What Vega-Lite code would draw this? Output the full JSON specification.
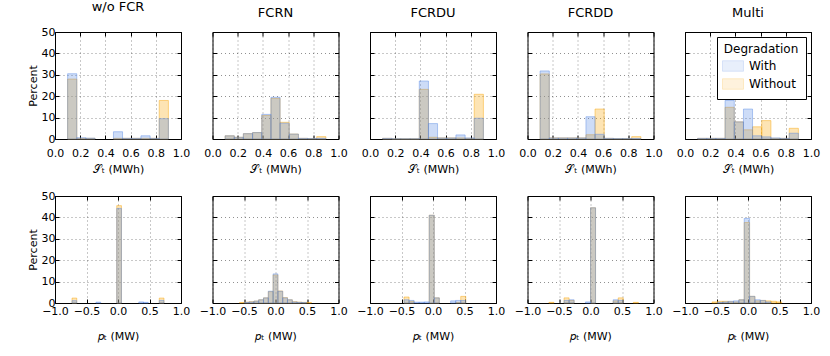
{
 "$schema": "https://vega.github.io/schema/vega-lite/v6.json",
 "background": "white",
 "padding": {"left": 26, "top": 0, "right": 5, "bottom": 5},
 "datasets": {"d": [
  {"p":"w/o FCR","r":"t","d":"With","a":0.100,"b":0.173,"v":30.5},
  {"p":"w/o FCR","r":"t","d":"With","a":0.173,"b":0.245,"v":0.6},
  {"p":"w/o FCR","r":"t","d":"With","a":0.245,"b":0.318,"v":0.4},
  {"p":"w/o FCR","r":"t","d":"With","a":0.464,"b":0.536,"v":3.4},
  {"p":"w/o FCR","r":"t","d":"With","a":0.536,"b":0.609,"v":0.3},
  {"p":"w/o FCR","r":"t","d":"With","a":0.609,"b":0.682,"v":0.3},
  {"p":"w/o FCR","r":"t","d":"With","a":0.682,"b":0.755,"v":1.5},
  {"p":"w/o FCR","r":"t","d":"With","a":0.755,"b":0.827,"v":0.3},
  {"p":"w/o FCR","r":"t","d":"With","a":0.827,"b":0.900,"v":9.5},
  {"p":"w/o FCR","r":"t","d":"Without","a":0.100,"b":0.173,"v":28.0},
  {"p":"w/o FCR","r":"t","d":"Without","a":0.173,"b":0.245,"v":0.3},
  {"p":"w/o FCR","r":"t","d":"Without","a":0.245,"b":0.318,"v":0.3},
  {"p":"w/o FCR","r":"t","d":"Without","a":0.464,"b":0.536,"v":0.3},
  {"p":"w/o FCR","r":"t","d":"Without","a":0.536,"b":0.609,"v":0.3},
  {"p":"w/o FCR","r":"t","d":"Without","a":0.609,"b":0.682,"v":0.3},
  {"p":"w/o FCR","r":"t","d":"Without","a":0.682,"b":0.755,"v":0.3},
  {"p":"w/o FCR","r":"t","d":"Without","a":0.755,"b":0.827,"v":0.3},
  {"p":"w/o FCR","r":"t","d":"Without","a":0.827,"b":0.900,"v":18.0},

  {"p":"FCRN","r":"t","d":"With","a":0.100,"b":0.173,"v":1.5},
  {"p":"FCRN","r":"t","d":"With","a":0.173,"b":0.245,"v":0.8},
  {"p":"FCRN","r":"t","d":"With","a":0.245,"b":0.318,"v":2.5},
  {"p":"FCRN","r":"t","d":"With","a":0.318,"b":0.391,"v":3.0},
  {"p":"FCRN","r":"t","d":"With","a":0.391,"b":0.464,"v":11.5},
  {"p":"FCRN","r":"t","d":"With","a":0.464,"b":0.536,"v":19.5},
  {"p":"FCRN","r":"t","d":"With","a":0.536,"b":0.609,"v":7.4},
  {"p":"FCRN","r":"t","d":"With","a":0.609,"b":0.682,"v":2.3},
  {"p":"FCRN","r":"t","d":"With","a":0.682,"b":0.755,"v":0.3},
  {"p":"FCRN","r":"t","d":"With","a":0.755,"b":0.827,"v":0.2},
  {"p":"FCRN","r":"t","d":"With","a":0.827,"b":0.900,"v":0.3},
  {"p":"FCRN","r":"t","d":"Without","a":0.100,"b":0.173,"v":1.5},
  {"p":"FCRN","r":"t","d":"Without","a":0.173,"b":0.245,"v":0.8},
  {"p":"FCRN","r":"t","d":"Without","a":0.245,"b":0.318,"v":2.5},
  {"p":"FCRN","r":"t","d":"Without","a":0.318,"b":0.391,"v":3.0},
  {"p":"FCRN","r":"t","d":"Without","a":0.391,"b":0.464,"v":11.0},
  {"p":"FCRN","r":"t","d":"Without","a":0.464,"b":0.536,"v":19.0},
  {"p":"FCRN","r":"t","d":"Without","a":0.536,"b":0.609,"v":7.8},
  {"p":"FCRN","r":"t","d":"Without","a":0.609,"b":0.682,"v":2.3},
  {"p":"FCRN","r":"t","d":"Without","a":0.682,"b":0.755,"v":0.3},
  {"p":"FCRN","r":"t","d":"Without","a":0.755,"b":0.827,"v":0.2},
  {"p":"FCRN","r":"t","d":"Without","a":0.827,"b":0.900,"v":1.1},

  {"p":"FCRDU","r":"t","d":"With","a":0.100,"b":0.173,"v":0.3},
  {"p":"FCRDU","r":"t","d":"With","a":0.173,"b":0.245,"v":0.1},
  {"p":"FCRDU","r":"t","d":"With","a":0.245,"b":0.318,"v":0.1},
  {"p":"FCRDU","r":"t","d":"With","a":0.318,"b":0.391,"v":0.1},
  {"p":"FCRDU","r":"t","d":"With","a":0.391,"b":0.464,"v":27.1},
  {"p":"FCRDU","r":"t","d":"With","a":0.464,"b":0.536,"v":7.2},
  {"p":"FCRDU","r":"t","d":"With","a":0.536,"b":0.609,"v":0.5},
  {"p":"FCRDU","r":"t","d":"With","a":0.609,"b":0.682,"v":0.5},
  {"p":"FCRDU","r":"t","d":"With","a":0.682,"b":0.755,"v":1.9},
  {"p":"FCRDU","r":"t","d":"With","a":0.755,"b":0.827,"v":0.5},
  {"p":"FCRDU","r":"t","d":"With","a":0.827,"b":0.900,"v":9.7},
  {"p":"FCRDU","r":"t","d":"Without","a":0.100,"b":0.173,"v":0.3},
  {"p":"FCRDU","r":"t","d":"Without","a":0.173,"b":0.245,"v":0.1},
  {"p":"FCRDU","r":"t","d":"Without","a":0.245,"b":0.318,"v":0.1},
  {"p":"FCRDU","r":"t","d":"Without","a":0.318,"b":0.391,"v":0.1},
  {"p":"FCRDU","r":"t","d":"Without","a":0.391,"b":0.464,"v":23.2},
  {"p":"FCRDU","r":"t","d":"Without","a":0.464,"b":0.536,"v":0.8},
  {"p":"FCRDU","r":"t","d":"Without","a":0.536,"b":0.609,"v":0.5},
  {"p":"FCRDU","r":"t","d":"Without","a":0.609,"b":0.682,"v":0.5},
  {"p":"FCRDU","r":"t","d":"Without","a":0.682,"b":0.755,"v":0.5},
  {"p":"FCRDU","r":"t","d":"Without","a":0.755,"b":0.827,"v":0.3},
  {"p":"FCRDU","r":"t","d":"Without","a":0.827,"b":0.900,"v":20.9},

  {"p":"FCRDD","r":"t","d":"With","a":0.100,"b":0.173,"v":31.8},
  {"p":"FCRDD","r":"t","d":"With","a":0.173,"b":0.245,"v":0.5},
  {"p":"FCRDD","r":"t","d":"With","a":0.245,"b":0.318,"v":0.5},
  {"p":"FCRDD","r":"t","d":"With","a":0.318,"b":0.391,"v":0.5},
  {"p":"FCRDD","r":"t","d":"With","a":0.391,"b":0.464,"v":0.5},
  {"p":"FCRDD","r":"t","d":"With","a":0.464,"b":0.536,"v":10.4},
  {"p":"FCRDD","r":"t","d":"With","a":0.536,"b":0.609,"v":2.2},
  {"p":"FCRDD","r":"t","d":"With","a":0.609,"b":0.682,"v":0.3},
  {"p":"FCRDD","r":"t","d":"With","a":0.682,"b":0.755,"v":0.2},
  {"p":"FCRDD","r":"t","d":"With","a":0.755,"b":0.827,"v":0.2},
  {"p":"FCRDD","r":"t","d":"With","a":0.827,"b":0.900,"v":0.2},
  {"p":"FCRDD","r":"t","d":"Without","a":0.100,"b":0.173,"v":30.4},
  {"p":"FCRDD","r":"t","d":"Without","a":0.173,"b":0.245,"v":0.5},
  {"p":"FCRDD","r":"t","d":"Without","a":0.245,"b":0.318,"v":0.5},
  {"p":"FCRDD","r":"t","d":"Without","a":0.318,"b":0.391,"v":0.5},
  {"p":"FCRDD","r":"t","d":"Without","a":0.391,"b":0.464,"v":0.5},
  {"p":"FCRDD","r":"t","d":"Without","a":0.464,"b":0.536,"v":2.0},
  {"p":"FCRDD","r":"t","d":"Without","a":0.536,"b":0.609,"v":14.0},
  {"p":"FCRDD","r":"t","d":"Without","a":0.609,"b":0.682,"v":0.3},
  {"p":"FCRDD","r":"t","d":"Without","a":0.682,"b":0.755,"v":0.2},
  {"p":"FCRDD","r":"t","d":"Without","a":0.755,"b":0.827,"v":0.2},
  {"p":"FCRDD","r":"t","d":"Without","a":0.827,"b":0.900,"v":1.1},

  {"p":"Multi","r":"t","d":"With","a":0.100,"b":0.173,"v":0.3},
  {"p":"Multi","r":"t","d":"With","a":0.173,"b":0.245,"v":0.3},
  {"p":"Multi","r":"t","d":"With","a":0.245,"b":0.318,"v":0.3},
  {"p":"Multi","r":"t","d":"With","a":0.318,"b":0.391,"v":18.0},
  {"p":"Multi","r":"t","d":"With","a":0.391,"b":0.464,"v":8.0},
  {"p":"Multi","r":"t","d":"With","a":0.464,"b":0.536,"v":14.0},
  {"p":"Multi","r":"t","d":"With","a":0.536,"b":0.609,"v":1.5},
  {"p":"Multi","r":"t","d":"With","a":0.609,"b":0.682,"v":1.0},
  {"p":"Multi","r":"t","d":"With","a":0.682,"b":0.755,"v":0.5},
  {"p":"Multi","r":"t","d":"With","a":0.755,"b":0.827,"v":0.3},
  {"p":"Multi","r":"t","d":"With","a":0.827,"b":0.900,"v":2.7},
  {"p":"Multi","r":"t","d":"Without","a":0.100,"b":0.173,"v":0.3},
  {"p":"Multi","r":"t","d":"Without","a":0.173,"b":0.245,"v":0.3},
  {"p":"Multi","r":"t","d":"Without","a":0.245,"b":0.318,"v":0.3},
  {"p":"Multi","r":"t","d":"Without","a":0.318,"b":0.391,"v":14.8},
  {"p":"Multi","r":"t","d":"Without","a":0.391,"b":0.464,"v":8.0},
  {"p":"Multi","r":"t","d":"Without","a":0.464,"b":0.536,"v":4.3},
  {"p":"Multi","r":"t","d":"Without","a":0.536,"b":0.609,"v":5.7},
  {"p":"Multi","r":"t","d":"Without","a":0.609,"b":0.682,"v":8.6},
  {"p":"Multi","r":"t","d":"Without","a":0.682,"b":0.755,"v":0.3},
  {"p":"Multi","r":"t","d":"Without","a":0.755,"b":0.827,"v":0.3},
  {"p":"Multi","r":"t","d":"Without","a":0.827,"b":0.900,"v":5.0},

  {"p":"w/o FCR","r":"b","d":"With","a":-0.730,"b":-0.655,"v":1.1},
  {"p":"w/o FCR","r":"b","d":"With","a":-0.350,"b":-0.275,"v":0.4},
  {"p":"w/o FCR","r":"b","d":"With","a":-0.020,"b":0.055,"v":44.2},
  {"p":"w/o FCR","r":"b","d":"With","a":0.330,"b":0.405,"v":0.5},
  {"p":"w/o FCR","r":"b","d":"With","a":0.405,"b":0.480,"v":0.3},
  {"p":"w/o FCR","r":"b","d":"With","a":0.655,"b":0.730,"v":1.2},
  {"p":"w/o FCR","r":"b","d":"Without","a":-0.730,"b":-0.655,"v":2.3},
  {"p":"w/o FCR","r":"b","d":"Without","a":-0.020,"b":0.055,"v":45.5},
  {"p":"w/o FCR","r":"b","d":"Without","a":0.655,"b":0.730,"v":2.3},

  {"p":"FCRN","r":"b","d":"With","a":-0.495,"b":-0.419,"v":0.3},
  {"p":"FCRN","r":"b","d":"With","a":-0.419,"b":-0.343,"v":0.5},
  {"p":"FCRN","r":"b","d":"With","a":-0.343,"b":-0.267,"v":0.9},
  {"p":"FCRN","r":"b","d":"With","a":-0.267,"b":-0.190,"v":1.5},
  {"p":"FCRN","r":"b","d":"With","a":-0.190,"b":-0.114,"v":2.4},
  {"p":"FCRN","r":"b","d":"With","a":-0.114,"b":-0.038,"v":5.5},
  {"p":"FCRN","r":"b","d":"With","a":-0.038,"b":0.038,"v":13.6},
  {"p":"FCRN","r":"b","d":"With","a":0.038,"b":0.114,"v":5.5},
  {"p":"FCRN","r":"b","d":"With","a":0.114,"b":0.190,"v":2.4},
  {"p":"FCRN","r":"b","d":"With","a":0.190,"b":0.267,"v":1.5},
  {"p":"FCRN","r":"b","d":"With","a":0.267,"b":0.343,"v":0.5},
  {"p":"FCRN","r":"b","d":"With","a":0.343,"b":0.419,"v":0.3},
  {"p":"FCRN","r":"b","d":"With","a":0.419,"b":0.495,"v":0.2},
  {"p":"FCRN","r":"b","d":"Without","a":-0.571,"b":-0.495,"v":0.2},
  {"p":"FCRN","r":"b","d":"Without","a":-0.495,"b":-0.419,"v":0.4},
  {"p":"FCRN","r":"b","d":"Without","a":-0.419,"b":-0.343,"v":0.6},
  {"p":"FCRN","r":"b","d":"Without","a":-0.343,"b":-0.267,"v":0.9},
  {"p":"FCRN","r":"b","d":"Without","a":-0.267,"b":-0.190,"v":1.5},
  {"p":"FCRN","r":"b","d":"Without","a":-0.190,"b":-0.114,"v":2.4},
  {"p":"FCRN","r":"b","d":"Without","a":-0.114,"b":-0.038,"v":5.3},
  {"p":"FCRN","r":"b","d":"Without","a":-0.038,"b":0.038,"v":13.1},
  {"p":"FCRN","r":"b","d":"Without","a":0.038,"b":0.114,"v":5.6},
  {"p":"FCRN","r":"b","d":"Without","a":0.114,"b":0.190,"v":2.5},
  {"p":"FCRN","r":"b","d":"Without","a":0.190,"b":0.267,"v":1.5},
  {"p":"FCRN","r":"b","d":"Without","a":0.267,"b":0.343,"v":0.6},
  {"p":"FCRN","r":"b","d":"Without","a":0.343,"b":0.419,"v":0.4},
  {"p":"FCRN","r":"b","d":"Without","a":0.419,"b":0.495,"v":0.3},
  {"p":"FCRN","r":"b","d":"Without","a":0.495,"b":0.571,"v":0.2},

  {"p":"FCRDU","r":"b","d":"With","a":-0.46,"b":-0.38,"v":1.5},
  {"p":"FCRDU","r":"b","d":"With","a":-0.38,"b":-0.30,"v":1.2},
  {"p":"FCRDU","r":"b","d":"With","a":-0.30,"b":-0.22,"v":0.4},
  {"p":"FCRDU","r":"b","d":"With","a":-0.22,"b":-0.14,"v":0.4},
  {"p":"FCRDU","r":"b","d":"With","a":-0.14,"b":-0.06,"v":0.5},
  {"p":"FCRDU","r":"b","d":"With","a":-0.06,"b":0.02,"v":41.0},
  {"p":"FCRDU","r":"b","d":"With","a":0.02,"b":0.10,"v":2.4},
  {"p":"FCRDU","r":"b","d":"With","a":0.28,"b":0.36,"v":1.0},
  {"p":"FCRDU","r":"b","d":"With","a":0.36,"b":0.44,"v":1.2},
  {"p":"FCRDU","r":"b","d":"With","a":0.44,"b":0.52,"v":1.2},
  {"p":"FCRDU","r":"b","d":"Without","a":-0.46,"b":-0.38,"v":2.8},
  {"p":"FCRDU","r":"b","d":"Without","a":-0.38,"b":-0.30,"v":0.8},
  {"p":"FCRDU","r":"b","d":"Without","a":-0.06,"b":0.02,"v":41.0},
  {"p":"FCRDU","r":"b","d":"Without","a":0.02,"b":0.10,"v":2.4},
  {"p":"FCRDU","r":"b","d":"Without","a":0.36,"b":0.44,"v":0.3},
  {"p":"FCRDU","r":"b","d":"Without","a":0.44,"b":0.52,"v":3.1},

  {"p":"FCRDD","r":"b","d":"With","a":-0.42,"b":-0.34,"v":1.2},
  {"p":"FCRDD","r":"b","d":"With","a":-0.34,"b":-0.26,"v":1.5},
  {"p":"FCRDD","r":"b","d":"With","a":-0.08,"b":0.00,"v":0.5},
  {"p":"FCRDD","r":"b","d":"With","a":0.00,"b":0.08,"v":44.5},
  {"p":"FCRDD","r":"b","d":"With","a":0.36,"b":0.44,"v":1.5},
  {"p":"FCRDD","r":"b","d":"With","a":0.44,"b":0.52,"v":1.2},
  {"p":"FCRDD","r":"b","d":"Without","a":-0.66,"b":-0.58,"v":0.3},
  {"p":"FCRDD","r":"b","d":"Without","a":-0.42,"b":-0.34,"v":2.4},
  {"p":"FCRDD","r":"b","d":"Without","a":-0.34,"b":-0.26,"v":1.2},
  {"p":"FCRDD","r":"b","d":"Without","a":0.00,"b":0.08,"v":44.5},
  {"p":"FCRDD","r":"b","d":"Without","a":0.36,"b":0.44,"v":1.0},
  {"p":"FCRDD","r":"b","d":"Without","a":0.44,"b":0.52,"v":2.4},
  {"p":"FCRDD","r":"b","d":"Without","a":0.68,"b":0.76,"v":0.3},

  {"p":"Multi","r":"b","d":"With","a":-0.485,"b":-0.400,"v":0.3},
  {"p":"Multi","r":"b","d":"With","a":-0.400,"b":-0.315,"v":0.5},
  {"p":"Multi","r":"b","d":"With","a":-0.315,"b":-0.230,"v":0.8},
  {"p":"Multi","r":"b","d":"With","a":-0.230,"b":-0.145,"v":1.0},
  {"p":"Multi","r":"b","d":"With","a":-0.145,"b":-0.060,"v":1.5},
  {"p":"Multi","r":"b","d":"With","a":-0.060,"b":0.025,"v":39.5},
  {"p":"Multi","r":"b","d":"With","a":0.025,"b":0.110,"v":3.1},
  {"p":"Multi","r":"b","d":"With","a":0.110,"b":0.195,"v":1.5},
  {"p":"Multi","r":"b","d":"With","a":0.195,"b":0.280,"v":1.2},
  {"p":"Multi","r":"b","d":"With","a":0.280,"b":0.365,"v":0.5},
  {"p":"Multi","r":"b","d":"Without","a":-0.570,"b":-0.485,"v":0.5},
  {"p":"Multi","r":"b","d":"Without","a":-0.485,"b":-0.400,"v":0.8},
  {"p":"Multi","r":"b","d":"Without","a":-0.400,"b":-0.315,"v":0.8},
  {"p":"Multi","r":"b","d":"Without","a":-0.315,"b":-0.230,"v":0.6},
  {"p":"Multi","r":"b","d":"Without","a":-0.230,"b":-0.145,"v":0.5},
  {"p":"Multi","r":"b","d":"Without","a":-0.145,"b":-0.060,"v":1.5},
  {"p":"Multi","r":"b","d":"Without","a":-0.060,"b":0.025,"v":37.6},
  {"p":"Multi","r":"b","d":"Without","a":0.025,"b":0.110,"v":3.1},
  {"p":"Multi","r":"b","d":"Without","a":0.110,"b":0.195,"v":1.0},
  {"p":"Multi","r":"b","d":"Without","a":0.195,"b":0.280,"v":1.2},
  {"p":"Multi","r":"b","d":"Without","a":0.280,"b":0.365,"v":1.0},
  {"p":"Multi","r":"b","d":"Without","a":0.365,"b":0.450,"v":0.8},
  {"p":"Multi","r":"b","d":"Without","a":0.450,"b":0.535,"v":0.5}
 ]},
 "data": {"name": "d"},
 "config": {
  "font": "DejaVu Sans",
  "view": {"stroke": "#000", "strokeWidth": 1},
  "axis": {"domain": false, "grid": true, "gridColor": "#000", "gridDash": [1, 3], "gridOpacity": 0.55, "gridWidth": 0.8,
           "tickColor": "#000", "tickSize": -4, "tickWidth": 1, "labelFontSize": 11, "labelColor": "#000", "labelPadding": 4,
           "labelOverlap": false, "labelFlush": false, "titleFontSize": 11, "titleFontWeight": "normal", "titleColor": "#000", "titlePadding": 3},
  "title": {"fontSize": 13, "fontWeight": "normal", "color": "#000", "offset": 12, "frame": "group", "anchor": "middle"},
  "rect": {"fillOpacity": 0.3, "strokeOpacity": 0.45, "strokeWidth": 1},
  "range": {"category": ["#588ae4", "#f8a505"]}
 },
 "spacing": 14,
 "resolve": {"legend": {"fill": "independent", "stroke": "independent"}},
 "vconcat": [
  {"hconcat": [
   {"width": 126, "height": 107, "title": {"text": "w/o FCR", "frame": "group", "anchor": "middle"},
    "transform": [{"filter": "datum.p === 'w/o FCR' && datum.r === 't'"}],
    "resolve": {"axis": {"x": "independent", "y": "independent"}},
    "layer": [
     {"mark": "rect", "encoding": {
      "x": {"field": "a", "type": "quantitative", "scale": {"domain": [0, 1], "nice": false, "zero": false}, "axis": {"values": [0, 0.2, 0.4, 0.6, 0.8, 1], "format": ".1f", "title": "𝒮ₜ (MWh)", "labelPadding": 12, "titlePadding": 5}},
      "x2": {"field": "b"},
      "y": {"field": "v", "type": "quantitative", "scale": {"domain": [0, 50], "nice": false}, "axis": {"values": [0, 10, 20, 30, 40, 50], "title": "Percent"}},
      "y2": {"datum": 0},
      "order": {"field": "d", "sort": "descending"},
      "fill": {"field": "d", "type": "nominal", "legend": null},
      "stroke": {"field": "d", "type": "nominal", "legend": null}}},
     {"mark": {"type": "rect", "opacity": 0}, "encoding": {
      "x": {"field": "a", "type": "quantitative", "axis": {"orient": "top", "values": [0, 0.2, 0.4, 0.6, 0.8, 1], "labels": false, "title": null, "grid": false}},
      "x2": {"field": "b"},
      "y": {"field": "v", "type": "quantitative", "axis": {"orient": "right", "values": [0, 10, 20, 30, 40, 50], "labels": false, "title": null, "grid": false}},
      "y2": {"datum": 0}}}
    ]},
   {"width": 126, "height": 107, "title": {"text": "FCRN", "frame": "group", "anchor": "middle"},
    "transform": [{"filter": "datum.p === 'FCRN' && datum.r === 't'"}],
    "resolve": {"axis": {"x": "independent", "y": "independent"}},
    "layer": [
     {"mark": "rect", "encoding": {
      "x": {"field": "a", "type": "quantitative", "scale": {"domain": [0, 1], "nice": false, "zero": false}, "axis": {"values": [0, 0.2, 0.4, 0.6, 0.8, 1], "format": ".1f", "title": "𝒮ₜ (MWh)", "labelPadding": 12, "titlePadding": 5}},
      "x2": {"field": "b"},
      "y": {"field": "v", "type": "quantitative", "scale": {"domain": [0, 50], "nice": false}, "axis": {"values": [0, 10, 20, 30, 40, 50], "labels": false, "title": null}},
      "y2": {"datum": 0},
      "order": {"field": "d", "sort": "descending"},
      "fill": {"field": "d", "type": "nominal", "legend": null},
      "stroke": {"field": "d", "type": "nominal", "legend": null}}},
     {"mark": {"type": "rect", "opacity": 0}, "encoding": {
      "x": {"field": "a", "type": "quantitative", "axis": {"orient": "top", "values": [0, 0.2, 0.4, 0.6, 0.8, 1], "labels": false, "title": null, "grid": false}},
      "x2": {"field": "b"},
      "y": {"field": "v", "type": "quantitative", "axis": {"orient": "right", "values": [0, 10, 20, 30, 40, 50], "labels": false, "title": null, "grid": false}},
      "y2": {"datum": 0}}}
    ]},
   {"width": 126, "height": 107, "title": {"text": "FCRDU", "frame": "group", "anchor": "middle"},
    "transform": [{"filter": "datum.p === 'FCRDU' && datum.r === 't'"}],
    "resolve": {"axis": {"x": "independent", "y": "independent"}},
    "layer": [
     {"mark": "rect", "encoding": {
      "x": {"field": "a", "type": "quantitative", "scale": {"domain": [0, 1], "nice": false, "zero": false}, "axis": {"values": [0, 0.2, 0.4, 0.6, 0.8, 1], "format": ".1f", "title": "𝒮ₜ (MWh)", "labelPadding": 12, "titlePadding": 5}},
      "x2": {"field": "b"},
      "y": {"field": "v", "type": "quantitative", "scale": {"domain": [0, 50], "nice": false}, "axis": {"values": [0, 10, 20, 30, 40, 50], "labels": false, "title": null}},
      "y2": {"datum": 0},
      "order": {"field": "d", "sort": "descending"},
      "fill": {"field": "d", "type": "nominal", "legend": null},
      "stroke": {"field": "d", "type": "nominal", "legend": null}}},
     {"mark": {"type": "rect", "opacity": 0}, "encoding": {
      "x": {"field": "a", "type": "quantitative", "axis": {"orient": "top", "values": [0, 0.2, 0.4, 0.6, 0.8, 1], "labels": false, "title": null, "grid": false}},
      "x2": {"field": "b"},
      "y": {"field": "v", "type": "quantitative", "axis": {"orient": "right", "values": [0, 10, 20, 30, 40, 50], "labels": false, "title": null, "grid": false}},
      "y2": {"datum": 0}}}
    ]},
   {"width": 126, "height": 107, "title": {"text": "FCRDD", "frame": "group", "anchor": "middle"},
    "transform": [{"filter": "datum.p === 'FCRDD' && datum.r === 't'"}],
    "resolve": {"axis": {"x": "independent", "y": "independent"}},
    "layer": [
     {"mark": "rect", "encoding": {
      "x": {"field": "a", "type": "quantitative", "scale": {"domain": [0, 1], "nice": false, "zero": false}, "axis": {"values": [0, 0.2, 0.4, 0.6, 0.8, 1], "format": ".1f", "title": "𝒮ₜ (MWh)", "labelPadding": 12, "titlePadding": 5}},
      "x2": {"field": "b"},
      "y": {"field": "v", "type": "quantitative", "scale": {"domain": [0, 50], "nice": false}, "axis": {"values": [0, 10, 20, 30, 40, 50], "labels": false, "title": null}},
      "y2": {"datum": 0},
      "order": {"field": "d", "sort": "descending"},
      "fill": {"field": "d", "type": "nominal", "legend": null},
      "stroke": {"field": "d", "type": "nominal", "legend": null}}},
     {"mark": {"type": "rect", "opacity": 0}, "encoding": {
      "x": {"field": "a", "type": "quantitative", "axis": {"orient": "top", "values": [0, 0.2, 0.4, 0.6, 0.8, 1], "labels": false, "title": null, "grid": false}},
      "x2": {"field": "b"},
      "y": {"field": "v", "type": "quantitative", "axis": {"orient": "right", "values": [0, 10, 20, 30, 40, 50], "labels": false, "title": null, "grid": false}},
      "y2": {"datum": 0}}}
    ]},
   {"width": 126, "height": 107, "title": {"text": "Multi", "frame": "group", "anchor": "middle"},
    "transform": [{"filter": "datum.p === 'Multi' && datum.r === 't'"}],
    "resolve": {"axis": {"x": "independent", "y": "independent"}},
    "layer": [
     {"mark": "rect", "encoding": {
      "x": {"field": "a", "type": "quantitative", "scale": {"domain": [0, 1], "nice": false, "zero": false}, "axis": {"values": [0, 0.2, 0.4, 0.6, 0.8, 1], "format": ".1f", "title": "𝒮ₜ (MWh)", "labelPadding": 12, "titlePadding": 5}},
      "x2": {"field": "b"},
      "y": {"field": "v", "type": "quantitative", "scale": {"domain": [0, 50], "nice": false}, "axis": {"values": [0, 10, 20, 30, 40, 50], "labels": false, "title": null}},
      "y2": {"datum": 0},
      "order": {"field": "d", "sort": "descending"},
      "fill": {"field": "d", "type": "nominal", "legend": {"title": "Degradation", "orient": "top-right", "offset": 5, "titleAnchor": "middle", "titleFontSize": 12, "titleFontWeight": "normal", "titleColor": "#000", "labelFontSize": 12, "labelColor": "#000", "strokeColor": "#000", "fillColor": "#fff", "padding": 7, "symbolType": "M-2,-1L2,-1L2,1L-2,1Z", "symbolSize": 110, "symbolOpacity": 0.45, "symbolStrokeWidth": 1, "rowPadding": 2, "labelOffset": 10, "titlePadding": 4}},
      "stroke": {"field": "d", "type": "nominal", "legend": null}}},
     {"mark": {"type": "rect", "opacity": 0}, "encoding": {
      "x": {"field": "a", "type": "quantitative", "axis": {"orient": "top", "values": [0, 0.2, 0.4, 0.6, 0.8, 1], "labels": false, "title": null, "grid": false}},
      "x2": {"field": "b"},
      "y": {"field": "v", "type": "quantitative", "axis": {"orient": "right", "values": [0, 10, 20, 30, 40, 50], "labels": false, "title": null, "grid": false}},
      "y2": {"datum": 0}}}
    ]}
  ], "spacing": 31.5, "bounds": "flush", "resolve": {"legend": {"fill": "independent", "stroke": "independent"}}},
  {"hconcat": [
   {"width": 126, "height": 107,
    "transform": [{"filter": "datum.p === 'w/o FCR' && datum.r === 'b'"}],
    "resolve": {"axis": {"x": "independent", "y": "independent"}},
    "layer": [
     {"mark": "rect", "encoding": {
      "x": {"field": "a", "type": "quantitative", "scale": {"domain": [-1, 1], "nice": false, "zero": false}, "axis": {"values": [-1, -0.5, 0, 0.5, 1], "format": ".1f", "title": "𝑝ₜ (MW)", "labelPadding": 6, "titlePadding": 14}},
      "x2": {"field": "b"},
      "y": {"field": "v", "type": "quantitative", "scale": {"domain": [0, 50], "nice": false}, "axis": {"values": [0, 10, 20, 30, 40, 50], "title": "Percent"}},
      "y2": {"datum": 0},
      "order": {"field": "d", "sort": "descending"},
      "fill": {"field": "d", "type": "nominal", "legend": null},
      "stroke": {"field": "d", "type": "nominal", "legend": null}}},
     {"mark": {"type": "rect", "opacity": 0}, "encoding": {
      "x": {"field": "a", "type": "quantitative", "axis": {"orient": "top", "values": [-1, -0.5, 0, 0.5, 1], "labels": false, "title": null, "grid": false}},
      "x2": {"field": "b"},
      "y": {"field": "v", "type": "quantitative", "axis": {"orient": "right", "values": [0, 10, 20, 30, 40, 50], "labels": false, "title": null, "grid": false}},
      "y2": {"datum": 0}}}
    ]},
   {"width": 126, "height": 107,
    "transform": [{"filter": "datum.p === 'FCRN' && datum.r === 'b'"}],
    "resolve": {"axis": {"x": "independent", "y": "independent"}},
    "layer": [
     {"mark": "rect", "encoding": {
      "x": {"field": "a", "type": "quantitative", "scale": {"domain": [-1, 1], "nice": false, "zero": false}, "axis": {"values": [-1, -0.5, 0, 0.5, 1], "format": ".1f", "title": "𝑝ₜ (MW)", "labelPadding": 6, "titlePadding": 14}},
      "x2": {"field": "b"},
      "y": {"field": "v", "type": "quantitative", "scale": {"domain": [0, 50], "nice": false}, "axis": {"values": [0, 10, 20, 30, 40, 50], "labels": false, "title": null}},
      "y2": {"datum": 0},
      "order": {"field": "d", "sort": "descending"},
      "fill": {"field": "d", "type": "nominal", "legend": null},
      "stroke": {"field": "d", "type": "nominal", "legend": null}}},
     {"mark": {"type": "rect", "opacity": 0}, "encoding": {
      "x": {"field": "a", "type": "quantitative", "axis": {"orient": "top", "values": [-1, -0.5, 0, 0.5, 1], "labels": false, "title": null, "grid": false}},
      "x2": {"field": "b"},
      "y": {"field": "v", "type": "quantitative", "axis": {"orient": "right", "values": [0, 10, 20, 30, 40, 50], "labels": false, "title": null, "grid": false}},
      "y2": {"datum": 0}}}
    ]},
   {"width": 126, "height": 107,
    "transform": [{"filter": "datum.p === 'FCRDU' && datum.r === 'b'"}],
    "resolve": {"axis": {"x": "independent", "y": "independent"}},
    "layer": [
     {"mark": "rect", "encoding": {
      "x": {"field": "a", "type": "quantitative", "scale": {"domain": [-1, 1], "nice": false, "zero": false}, "axis": {"values": [-1, -0.5, 0, 0.5, 1], "format": ".1f", "title": "𝑝ₜ (MW)", "labelPadding": 6, "titlePadding": 14}},
      "x2": {"field": "b"},
      "y": {"field": "v", "type": "quantitative", "scale": {"domain": [0, 50], "nice": false}, "axis": {"values": [0, 10, 20, 30, 40, 50], "labels": false, "title": null}},
      "y2": {"datum": 0},
      "order": {"field": "d", "sort": "descending"},
      "fill": {"field": "d", "type": "nominal", "legend": null},
      "stroke": {"field": "d", "type": "nominal", "legend": null}}},
     {"mark": {"type": "rect", "opacity": 0}, "encoding": {
      "x": {"field": "a", "type": "quantitative", "axis": {"orient": "top", "values": [-1, -0.5, 0, 0.5, 1], "labels": false, "title": null, "grid": false}},
      "x2": {"field": "b"},
      "y": {"field": "v", "type": "quantitative", "axis": {"orient": "right", "values": [0, 10, 20, 30, 40, 50], "labels": false, "title": null, "grid": false}},
      "y2": {"datum": 0}}}
    ]},
   {"width": 126, "height": 107,
    "transform": [{"filter": "datum.p === 'FCRDD' && datum.r === 'b'"}],
    "resolve": {"axis": {"x": "independent", "y": "independent"}},
    "layer": [
     {"mark": "rect", "encoding": {
      "x": {"field": "a", "type": "quantitative", "scale": {"domain": [-1, 1], "nice": false, "zero": false}, "axis": {"values": [-1, -0.5, 0, 0.5, 1], "format": ".1f", "title": "𝑝ₜ (MW)", "labelPadding": 6, "titlePadding": 14}},
      "x2": {"field": "b"},
      "y": {"field": "v", "type": "quantitative", "scale": {"domain": [0, 50], "nice": false}, "axis": {"values": [0, 10, 20, 30, 40, 50], "labels": false, "title": null}},
      "y2": {"datum": 0},
      "order": {"field": "d", "sort": "descending"},
      "fill": {"field": "d", "type": "nominal", "legend": null},
      "stroke": {"field": "d", "type": "nominal", "legend": null}}},
     {"mark": {"type": "rect", "opacity": 0}, "encoding": {
      "x": {"field": "a", "type": "quantitative", "axis": {"orient": "top", "values": [-1, -0.5, 0, 0.5, 1], "labels": false, "title": null, "grid": false}},
      "x2": {"field": "b"},
      "y": {"field": "v", "type": "quantitative", "axis": {"orient": "right", "values": [0, 10, 20, 30, 40, 50], "labels": false, "title": null, "grid": false}},
      "y2": {"datum": 0}}}
    ]},
   {"width": 126, "height": 107,
    "transform": [{"filter": "datum.p === 'Multi' && datum.r === 'b'"}],
    "resolve": {"axis": {"x": "independent", "y": "independent"}},
    "layer": [
     {"mark": "rect", "encoding": {
      "x": {"field": "a", "type": "quantitative", "scale": {"domain": [-1, 1], "nice": false, "zero": false}, "axis": {"values": [-1, -0.5, 0, 0.5, 1], "format": ".1f", "title": "𝑝ₜ (MW)", "labelPadding": 6, "titlePadding": 14}},
      "x2": {"field": "b"},
      "y": {"field": "v", "type": "quantitative", "scale": {"domain": [0, 50], "nice": false}, "axis": {"values": [0, 10, 20, 30, 40, 50], "labels": false, "title": null}},
      "y2": {"datum": 0},
      "order": {"field": "d", "sort": "descending"},
      "fill": {"field": "d", "type": "nominal", "legend": null},
      "stroke": {"field": "d", "type": "nominal", "legend": null}}},
     {"mark": {"type": "rect", "opacity": 0}, "encoding": {
      "x": {"field": "a", "type": "quantitative", "axis": {"orient": "top", "values": [-1, -0.5, 0, 0.5, 1], "labels": false, "title": null, "grid": false}},
      "x2": {"field": "b"},
      "y": {"field": "v", "type": "quantitative", "axis": {"orient": "right", "values": [0, 10, 20, 30, 40, 50], "labels": false, "title": null, "grid": false}},
      "y2": {"datum": 0}}}
    ]}
  ], "spacing": 31.5, "bounds": "flush", "resolve": {"legend": {"fill": "independent", "stroke": "independent"}}}
 ]
}
